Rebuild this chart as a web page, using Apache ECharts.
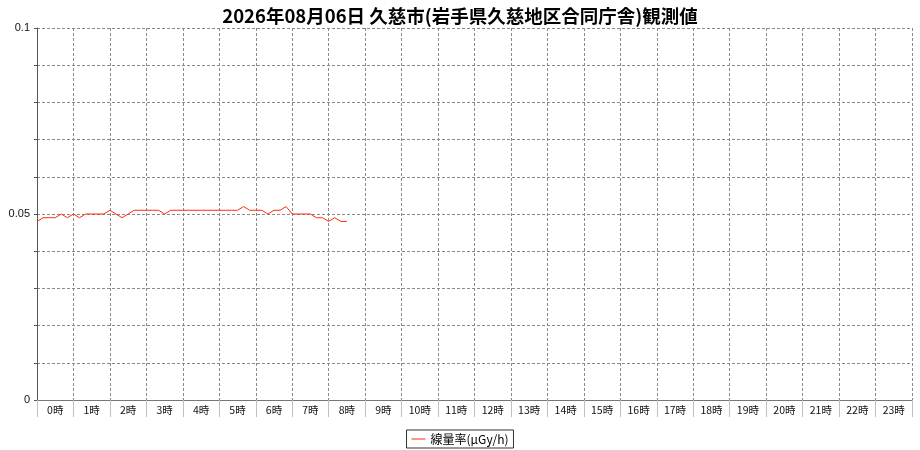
<!DOCTYPE html>
<html>
<head>
<meta charset="utf-8">
<script src="https://cdn.jsdelivr.net/npm/echarts@6/dist/echarts.min.js"></script>
<style>
html,body{margin:0;padding:0;background:#fff;}
#chart{width:920px;height:450px;}
</style>
</head>
<body>
<div id="chart"></div>
<script>
const titleText = '2026年08月06日 久慈市(岩手県久慈地区合同庁舎)観測値';
const seriesName = '線量率(μGy/h)';
const hourLabels = ['0時','1時','2時','3時','4時','5時','6時','7時','8時','9時','10時','11時',
  '12時','13時','14時','15時','16時','17時','18時','19時','20時','21時','22時','23時'];
const yTickLabels = [0, 0.05, 0.1];
// 10-minute readings from 0:00
const doseRate = [
  0.048, 0.049, 0.049, 0.049, 0.050, 0.049,
  0.050, 0.049, 0.050, 0.050, 0.050, 0.050,
  0.051, 0.050, 0.049, 0.050, 0.051, 0.051,
  0.051, 0.051, 0.051, 0.050, 0.051, 0.051,
  0.051, 0.051, 0.051, 0.051, 0.051, 0.051,
  0.051, 0.051, 0.051, 0.051, 0.052, 0.051,
  0.051, 0.051, 0.050, 0.051, 0.051, 0.052,
  0.050, 0.050, 0.050, 0.050, 0.049, 0.049,
  0.048, 0.049, 0.048, 0.048
];
// time slots of the day every 10 minutes (0:00 .. 24:00)
const timeSlots = [];
for (let h = 0; h <= 24; h++) {
  for (let m = 0; m < 60; m += 10) {
    if (h === 24 && m > 0) break;
    timeSlots.push(h + ':' + String(m).padStart(2, '0'));
  }
}

const chart = echarts.init(document.getElementById('chart'));
const gridColor = '#8a8a8a';
chart.setOption({
  backgroundColor: '#fff',
  animation: false,
  title: {
    text: titleText,
    left: 'center',
    top: 2,
    textStyle: {
      fontFamily: '"Noto Sans CJK JP", sans-serif',
      fontSize: 18.5,
      fontWeight: 'bold',
      color: '#000'
    }
  },
  grid: { left: 37, right: 8, top: 28, bottom: 50, containLabel: false },
  legend: {
    bottom: 2,
    left: 'center',
    data: [{ name: seriesName, icon: 'rect' }],
    borderColor: '#333',
    borderWidth: 1,
    borderRadius: 0,
    padding: [3, 5, 3, 5],
    itemWidth: 14,
    itemHeight: 1,
    itemGap: 5,
    textStyle: {
      fontFamily: '"Noto Sans CJK JP", sans-serif',
      fontSize: 12,
      color: '#000'
    }
  },
  xAxis: [
    {
      type: 'category',
      data: hourLabels,
      boundaryGap: true,
      axisLine: { show: true, lineStyle: { color: '#777', width: 1 } },
      axisTick: { show: true, interval: 0, length: 17, lineStyle: { color: '#c0c0c0' } },
      axisLabel: {
        interval: 0,
        margin: 5,
        fontSize: 10.5,
        color: '#111',
        fontFamily: '"Noto Sans CJK JP", sans-serif'
      },
      splitLine: { show: true, interval: 0, lineStyle: { color: gridColor, type: [3, 2], width: 1 } }
    },
    {
      type: 'category',
      data: timeSlots,
      boundaryGap: false,
      show: false,
      position: 'bottom'
    }
  ],
  yAxis: {
    type: 'value',
    min: 0,
    max: 0.1,
    interval: 0.01,
    axisLine: { show: true, lineStyle: { color: '#555', width: 1 } },
    axisTick: { show: true, length: 3, lineStyle: { color: '#555' } },
    axisLabel: {
      margin: 7,
      fontSize: 11,
      color: '#111',
      fontFamily: '"Liberation Sans", sans-serif',
      formatter: function (v) {
        const r = Math.round(v * 1000) / 1000;
        return yTickLabels.indexOf(r) >= 0 ? String(r) : '';
      }
    },
    splitLine: { show: true, lineStyle: { color: gridColor, type: [3, 2], width: 1 } }
  },
  series: [
    {
      name: seriesName,
      type: 'line',
      xAxisIndex: 1,
      data: doseRate,
      symbol: 'none',
      lineStyle: { color: '#ff2a10', width: 1 },
      itemStyle: { color: '#ff2a10' }
    }
  ]
});
</script>
</body>
</html>
